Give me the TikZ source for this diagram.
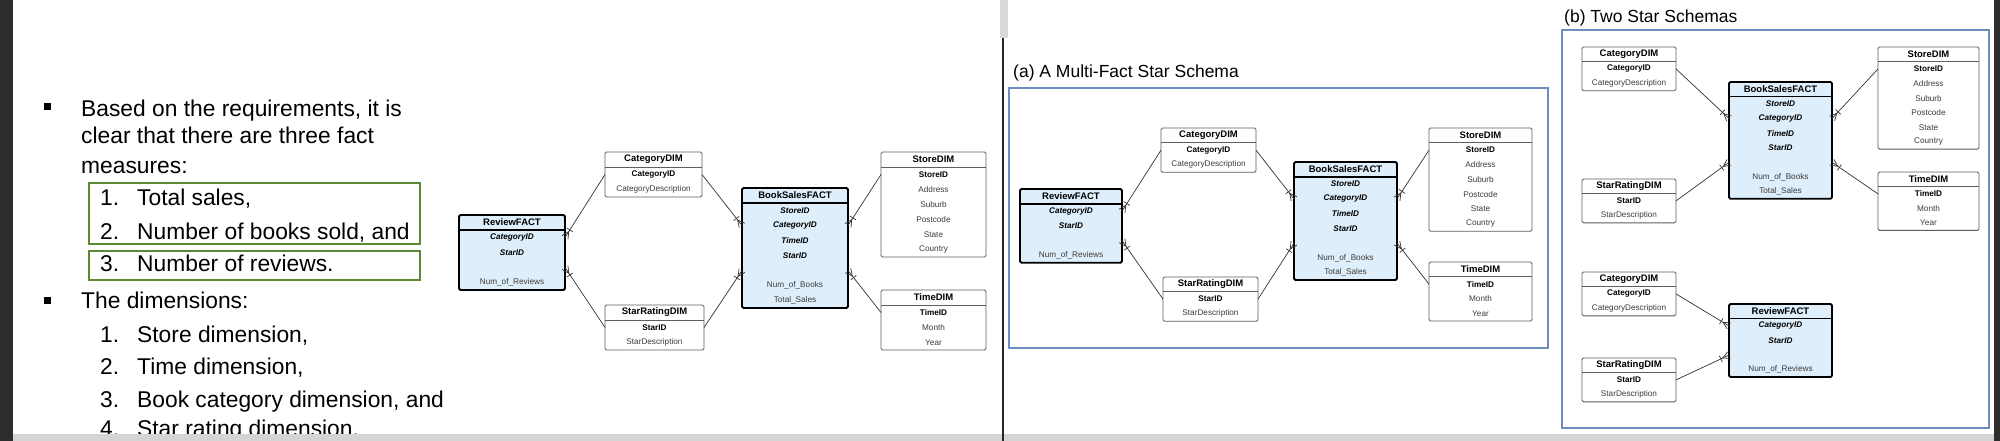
\documentclass[tikz,border=0pt]{standalone}
\usepackage{fontspec}
\setmainfont{Liberation Sans}
\usetikzlibrary{calc}
\definecolor{factfill}{RGB}{222,238,250}
\definecolor{dimline}{RGB}{95,95,95}
\definecolor{grn}{RGB}{92,138,52}
\definecolor{frameblue}{RGB}{108,142,191}
\definecolor{rowgray}{RGB}{60,60,60}
\definecolor{bardark}{RGB}{45,45,45}
\definecolor{bargray}{RGB}{212,212,212}
\newcommand{\kb}{\bfseries\color{black}}
\newcommand{\ki}{\bfseries\itshape\color{black}}
\tikzset{
 dimbox/.style={draw=dimline, line width=0.9pt, fill=white, rounded corners=1.5pt, inner sep=0pt, outer sep=0pt},
 factbox/.style={draw=black, line width=1.8pt, fill=factfill, rounded corners=1.5pt, inner sep=0pt, outer sep=0pt},
 dimbox sep/.style={draw=dimline, line width=0.9pt},
 factbox sep/.style={draw=black, line width=1.5pt},
 ttl/.style={font=\fontsize{9.5}{11}\selectfont\bfseries, inner sep=0pt, text=black},
 rowtext/.style={font=\fontsize{8.2}{9.5}\selectfont, inner sep=0pt, text=rowgray},
 conn/.style={draw=black!80, line width=0.7pt},
 bigtext/.style={font=\fontsize{22.8}{27}\selectfont, inner sep=0pt, anchor=base west, text=black},
 titletext/.style={font=\fontsize{17.5}{20}\selectfont, inner sep=0pt, anchor=base west, text=black},
 greenbox/.style={draw=grn, line width=2.5pt},
 bluframe/.style={draw=frameblue, line width=1.5pt, fill=white},
}
% #1 name, #2 x, #3 y, #4 width, #5 rows, #6 title, #7 rows list, #8 style
\newcommand{\tabl}[8]{%
  \node[#8, minimum width=#4pt, minimum height=(#5+1)*\rh*1pt, anchor=north west] (#1) at (#2,#3) {};
  \draw[#8 sep] ($(#1.north west)+(0,\rh)$) -- ($(#1.north east)+(0,\rh)$);
  \node[ttl] (#1t) at ($(#1.north)+(0,0.5*\rh)$) {#6};
  \foreach \r [count=\i] in {#7} {\node[rowtext] (#1r\i) at ($(#1.north)+(0,{(\i+0.5)*\rh})$) {\r};}
}
\newcommand{\crow}[2]{%
  \coordinate (cs) at (#1); \coordinate (ce) at (#2);
  \draw[conn] (cs) -- (ce);
  \coordinate (cp) at ($(ce)!7pt!(cs)$);
  \draw[conn] ($(ce)!3.5pt!90:(cs)$) -- (cp) -- ($(ce)!3.5pt!-90:(cs)$);
  \coordinate (cb) at ($(ce)!9pt!(cs)$);
  \draw[conn] ($(cb)!3.5pt!90:(cs)$) -- ($(cb)!3.5pt!-90:(cs)$);
}
\begin{document}
\begin{tikzpicture}[x=1pt, y=-1pt]
\useasboundingbox (0,0) rectangle (2000,441);
\fill[white] (0,0) rectangle (2000,441);

% ---------- left text ----------
\fill (44,103.5) rectangle +(7,7);
\fill (44,296.5) rectangle +(7,7);
\node[bigtext] (l1) at (81,117) {Based on the requirements, it is};
\node[bigtext] (l2) at (81,144) {clear that there are three fact};
\node[bigtext] (l3) at (81,173) {measures:};
\node[bigtext] (n1) at (100,205) {1.};
\node[bigtext] (m1) at (137,205) {Total sales,};
\node[bigtext] (n2) at (100,239) {2.};
\node[bigtext] (m2) at (137,239) {Number of books sold, and};
\node[bigtext] (n3) at (100,271) {3.};
\node[bigtext] (m3) at (137,271) {Number of reviews.};
\draw[greenbox] (89,183) rectangle (420,244);
\draw[greenbox] (89,251) rectangle (420,280);
\node[bigtext] (l4) at (81,308) {The dimensions:};
\node[bigtext] (k1) at (100,342) {1.};
\node[bigtext] (d1) at (137,342) {Store dimension,};
\node[bigtext] (k2) at (100,374) {2.};
\node[bigtext] (d2) at (137,374) {Time dimension,};
\node[bigtext] (k3) at (100,407) {3.};
\node[bigtext] (d3) at (137,407) {Book category dimension, and};
\node[bigtext] (k4) at (100,436) {4.};
\node[bigtext] (d4) at (137,436) {Star rating dimension.};

% ---------- diagram 1 ----------
\def\rh{15}
\tabl{ea}{459}{215}{106}{4}{ReviewFACT}{\ki CategoryID, \ki StarID, {}, Num\_of\_Reviews}{factbox}
\tabl{eb}{605}{152}{97}{2}{CategoryDIM}{\kb CategoryID, CategoryDescription}{dimbox}
\tabl{ec}{605}{305}{99}{2}{StarRatingDIM}{\kb StarID, StarDescription}{dimbox}
\tabl{ed}{742}{188}{106}{7}{BookSalesFACT}{\ki StoreID, \ki CategoryID, \ki TimeID, \ki StarID, {}, Num\_of\_Books, Total\_Sales}{factbox}
\tabl{ee}{881}{152}{105}{6}{StoreDIM}{\kb StoreID, Address, Suburb, Postcode, State, Country}{dimbox}
\tabl{ef}{881}{290}{105}{3}{TimeDIM}{\kb TimeID, Month, Year}{dimbox}
\crow{ebr1 -| eb.west}{ear1 -| ea.east}
\crow{ecr1 -| ec.west}{ear3 -| ea.east}
\crow{ebr1 -| eb.east}{edr2 -| ed.west}
\crow{ecr1 -| ec.east}{edr5 -| ed.west}
\crow{eer1 -| ee.west}{edr2 -| ed.east}
\crow{efr1 -| ef.west}{edr5 -| ed.east}

% ---------- diagram 2 ----------
\node[titletext] (ta) at (1013,78) {(a) A Multi-Fact Star Schema};
\draw[bluframe] (1009,88) rectangle (1548,348);
\def\rh{14.75}
\tabl{fa}{1020}{189}{102}{4}{ReviewFACT}{\ki CategoryID, \ki StarID, {}, Num\_of\_Reviews}{factbox}
\tabl{fb}{1161}{128}{95}{2}{CategoryDIM}{\kb CategoryID, CategoryDescription}{dimbox}
\tabl{fc}{1163}{277}{95}{2}{StarRatingDIM}{\kb StarID, StarDescription}{dimbox}
\tabl{fd}{1294}{162}{103}{7}{BookSalesFACT}{\ki StoreID, \ki CategoryID, \ki TimeID, \ki StarID, {}, Num\_of\_Books, Total\_Sales}{factbox}
\tabl{fe}{1429}{128}{103}{6}{StoreDIM}{\kb StoreID, Address, Suburb, Postcode, State, Country}{dimbox}
\tabl{ff}{1429}{262}{103}{3}{TimeDIM}{\kb TimeID, Month, Year}{dimbox}
\crow{fbr1 -| fb.west}{far1 -| fa.east}
\crow{fcr1 -| fc.west}{far3 -| fa.east}
\crow{fbr1 -| fb.east}{fdr2 -| fd.west}
\crow{fcr1 -| fc.east}{fdr5 -| fd.west}
\crow{fer1 -| fe.west}{fdr2 -| fd.east}
\crow{ffr1 -| ff.west}{fdr5 -| fd.east}

% ---------- diagram 3 ----------
\node[titletext] (tb) at (1564,23) {(b) Two Star Schemas};
\draw[bluframe] (1562,30) rectangle (1989,428);
\def\rh{14.6}
\tabl{gb}{1582}{47}{94}{2}{CategoryDIM}{\kb CategoryID, CategoryDescription}{dimbox}
\tabl{gc}{1582}{179}{94}{2}{StarRatingDIM}{\kb StarID, StarDescription}{dimbox}
\tabl{gd}{1729}{82}{103}{7}{BookSalesFACT}{\ki StoreID, \ki CategoryID, \ki TimeID, \ki StarID, {}, Num\_of\_Books, Total\_Sales}{factbox}
\tabl{ge}{1878}{47}{101}{6}{StoreDIM}{\kb StoreID, Address, Suburb, Postcode, State, Country}{dimbox}
\tabl{gf}{1878}{172}{101}{3}{TimeDIM}{\kb TimeID, Month, Year}{dimbox}
\tabl{gh}{1582}{272}{94}{2}{CategoryDIM}{\kb CategoryID, CategoryDescription}{dimbox}
\tabl{gi}{1582}{358}{94}{2}{StarRatingDIM}{\kb StarID, StarDescription}{dimbox}
\tabl{ga}{1729}{304}{103}{4}{ReviewFACT}{\ki CategoryID, \ki StarID, {}, Num\_of\_Reviews}{factbox}
\crow{gbr1 -| gb.east}{gdr2 -| gd.west}
\crow{gcr1 -| gc.east}{gdr5 -| gd.west}
\crow{ger1 -| ge.west}{gdr2 -| gd.east}
\crow{gfr1 -| gf.west}{gdr5 -| gd.east}
\crow{ghr1 -| gh.east}{gar1 -| ga.west}
\crow{gir1 -| gi.east}{gar3 -| ga.west}

% ---------- window chrome ----------
\fill[bardark] (0,0) rectangle (12.7,441);
\fill[bardark] (1994,0) rectangle (2000,441);
\fill[bargray] (12.7,434) rectangle (1994,441);
\fill[gray!30] (1000,0) rectangle (1008,38);
\draw[line width=1.5pt, black!85] (1003,38) -- (1003,441);
\end{tikzpicture}
\end{document}
